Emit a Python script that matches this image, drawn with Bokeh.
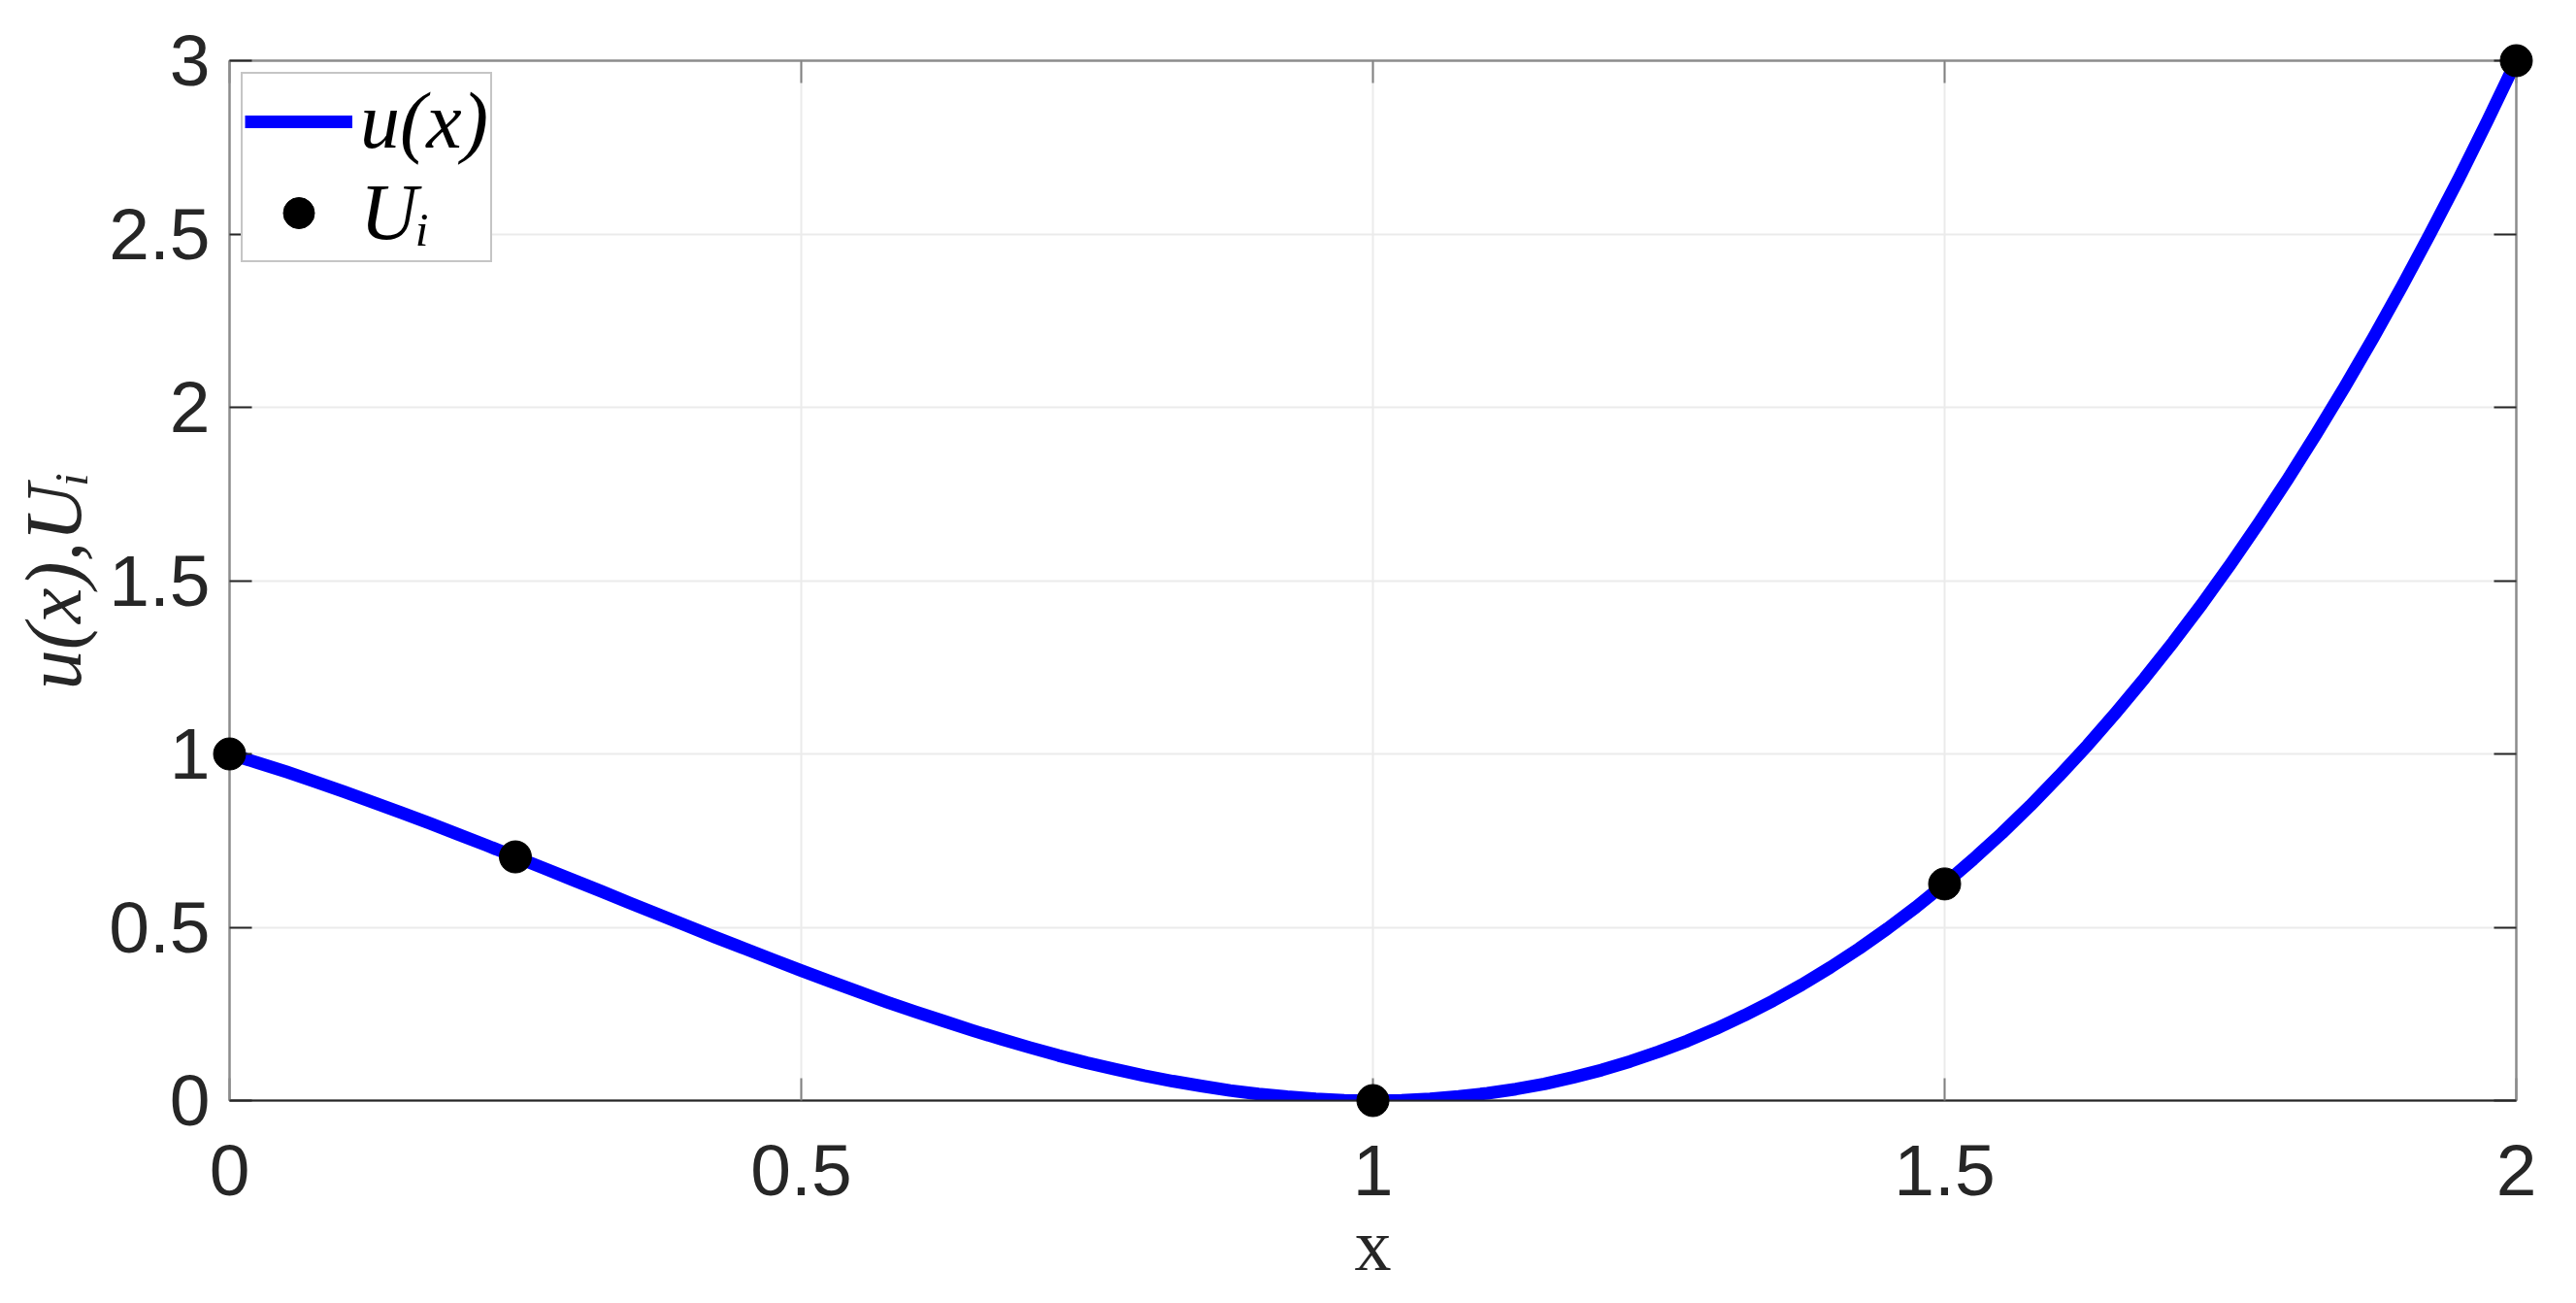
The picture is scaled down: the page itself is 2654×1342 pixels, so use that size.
from bokeh.plotting import figure
from bokeh.models import Range1d, LinearAxis, FixedTicker, Legend, LegendItem
from bokeh.embed import file_html
from bokeh.resources import INLINE

# ---- data ----
x_curve = [0.000, 0.025, 0.050, 0.075, 0.100, 0.125, 0.150, 0.175, 0.200, 0.225,
           0.250, 0.275, 0.300, 0.325, 0.350, 0.375, 0.400, 0.425, 0.450, 0.475,
           0.500, 0.525, 0.550, 0.575, 0.600, 0.625, 0.650, 0.675, 0.700, 0.725,
           0.750, 0.775, 0.800, 0.825, 0.850, 0.875, 0.900, 0.925, 0.950, 0.975,
           1.000, 1.025, 1.050, 1.075, 1.100, 1.125, 1.150, 1.175, 1.200, 1.225,
           1.250, 1.275, 1.300, 1.325, 1.350, 1.375, 1.400, 1.425, 1.450, 1.475,
           1.500, 1.525, 1.550, 1.575, 1.600, 1.625, 1.650, 1.675, 1.700, 1.725,
           1.750, 1.775, 1.800, 1.825, 1.850, 1.875, 1.900, 1.925, 1.950, 1.975, 2.000]
u_curve = [1.000, 0.974, 0.948, 0.920, 0.891, 0.861, 0.831, 0.800, 0.768, 0.736,
           0.703, 0.670, 0.637, 0.604, 0.570, 0.537, 0.504, 0.471, 0.439, 0.407,
           0.375, 0.344, 0.314, 0.284, 0.256, 0.229, 0.202, 0.177, 0.153, 0.130,
           0.109, 0.090, 0.072, 0.056, 0.042, 0.029, 0.019, 0.011, 0.005, 0.001,
           0.000, 0.001, 0.005, 0.012, 0.021, 0.033, 0.048, 0.067, 0.088, 0.113,
           0.141, 0.172, 0.207, 0.246, 0.288, 0.334, 0.384, 0.438, 0.496, 0.558,
           0.625, 0.696, 0.771, 0.851, 0.936, 1.025, 1.120, 1.219, 1.323, 1.432,
           1.547, 1.667, 1.792, 1.923, 2.059, 2.201, 2.349, 2.503, 2.662, 2.828, 3.000]
x_nodes = [0.0, 0.25, 1.0, 1.5, 2.0]
U_nodes = [1.0, 0.703, 0.0, 0.625, 3.0]

x_ticks = [0, 0.5, 1, 1.5, 2]
x_tick_labels = ["0", "0.5", "1", "1.5", "2"]
y_ticks = [0, 0.5, 1, 1.5, 2, 2.5, 3]
y_tick_labels = ["0", "0.5", "1", "1.5", "2", "2.5", "3"]

DARK = "#262626"
GRAY = "#8c8c8c"
TICKGRAY = "#808080"
SANS = "Liberation Sans"
SERIF = "Liberation Serif, DejaVu Serif"

p = figure(width=2654, height=1342, output_backend="svg", toolbar_location=None,
           x_range=Range1d(0, 2), y_range=Range1d(0, 3),
           min_border_left=236, min_border_right=62, min_border_top=62, min_border_bottom=209,
           x_axis_location=None, y_axis_location=None)
p.background_fill_color = "white"
p.border_fill_color = "white"
p.outline_line_color = GRAY
p.outline_line_width = 2

def style_axis(ax, tick_vals, labels, line_color, tick_color, show_labels):
    ax.ticker = FixedTicker(ticks=tick_vals)
    ax.axis_line_color = line_color
    ax.axis_line_width = 2
    ax.major_tick_line_color = tick_color
    ax.major_tick_line_width = 2
    ax.major_tick_in = 23
    ax.major_tick_out = 0
    ax.minor_tick_line_color = None
    if show_labels:
        ax.major_label_overrides = {v: l for v, l in zip(tick_vals, labels)}
        ax.major_label_text_font = SANS
        ax.major_label_text_font_size = "75px"
        ax.major_label_text_color = DARK
    else:
        ax.major_label_overrides = {v: "" for v in tick_vals}
        ax.major_label_text_font_size = "0px"

xb = LinearAxis()
style_axis(xb, x_ticks, x_tick_labels, DARK, TICKGRAY, True)
xb.major_label_standoff = 46
xb.axis_label = "x"
xb.axis_label_text_font = SERIF
xb.axis_label_text_font_style = "normal"
xb.axis_label_text_font_size = "76px"
xb.axis_label_text_color = DARK
xb.axis_label_standoff = 6
p.add_layout(xb, "below")

yl = LinearAxis()
style_axis(yl, y_ticks, y_tick_labels, GRAY, DARK, True)
yl.major_label_standoff = 20
yl.axis_label = "u(x),U\u1d62"
yl.axis_label_text_font = SERIF
yl.axis_label_text_font_style = "italic"
yl.axis_label_text_font_size = "82px"
yl.axis_label_text_color = DARK
yl.axis_label_standoff = 8
p.add_layout(yl, "left")

xt = LinearAxis()
style_axis(xt, x_ticks, x_tick_labels, GRAY, TICKGRAY, False)
p.add_layout(xt, "above")

yr = LinearAxis()
style_axis(yr, y_ticks, y_tick_labels, GRAY, DARK, False)
p.add_layout(yr, "right")

p.xgrid.ticker = FixedTicker(ticks=x_ticks)
p.ygrid.ticker = FixedTicker(ticks=y_ticks)
p.grid.grid_line_color = "#ebebeb"
p.grid.grid_line_width = 2

line_r = p.line(x_curve, u_curve, line_color="#0000ff", line_width=13, line_join="round")
pts_r = p.scatter(x_nodes, U_nodes, size=33, fill_color="black", line_color="black",
                  marker="circle", level="overlay")

legend = Legend(items=[LegendItem(label="u(x)", renderers=[line_r]),
                       LegendItem(label="U\u1d62", renderers=[pts_r])],
                location="top_left", margin=12, padding=2, spacing=-14,
                glyph_width=111, glyph_height=80, label_standoff=8,
                label_text_font=SERIF, label_text_font_style="italic",
                label_text_font_size="82px", label_text_color="black",
                border_line_color=GRAY, border_line_width=2,
                background_fill_color="white", background_fill_alpha=1)
p.add_layout(legend, "center")

open("out.html", "w").write(file_html(p, INLINE))
